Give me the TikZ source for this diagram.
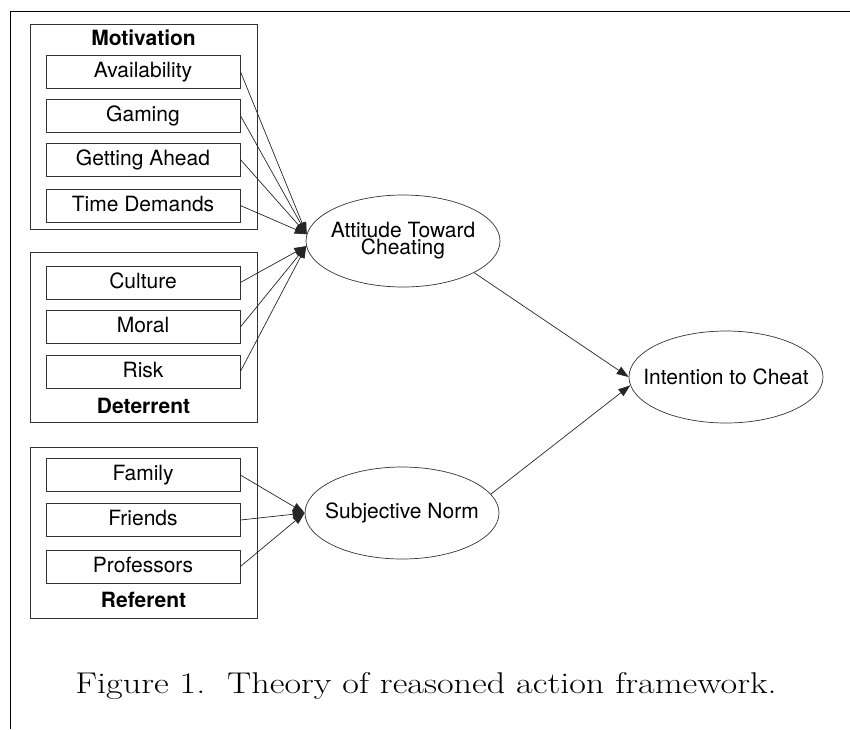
\documentclass[tikz,border=0pt]{standalone}
\usepackage{fontspec}
\setsansfont{TeX Gyre Heros}
\usetikzlibrary{arrows.meta,calc,positioning,shapes.geometric}

\begin{document}
\begin{tikzpicture}[
  x=1pt,y=-1pt,
  every node/.style={font=\sffamily\fontsize{21}{17}\selectfont},
  group/.style={draw=black!80,line width=0.8pt,minimum width=227pt,inner sep=0pt},
  factor/.style={draw=black!80,line width=0.8pt,minimum width=194pt,minimum height=33pt,
    inner sep=0pt,text height=15pt,text depth=4pt},
  construct/.style={ellipse,draw=black!80,line width=0.7pt,minimum width=194pt,
    minimum height=92pt,inner sep=0pt},
  heading/.style={font=\sffamily\bfseries\fontsize{21}{17}\selectfont,anchor=base,inner sep=0pt},
  link/.style={-{Triangle[length=12pt,width=8.5pt]},line width=0.7pt,draw=black!85},
  caption/.style={font=\rmfamily\fontsize{30}{36}\selectfont,anchor=base,inner sep=0pt}
]
\useasboundingbox (0,0) rectangle (850,729);
\draw[line width=1pt] (850,11) -- (10,11) -- (10,729);

% groups of beliefs
\node[group,minimum height=205pt] (motiv) at (143.5,126.5) {};
\node[group,minimum height=170pt] (deter) at (143.5,337) {};
\node[group,minimum height=171pt] (refer) at (143.5,532.5) {};
\node[heading] (motivT) at (143.5,45) {Motivation};
\node[heading] (deterT) at (143.5,413) {Deterrent};
\node[heading] (referT) at (143.5,607) {Referent};

\node[factor] (avail) at (143,71.5) {Availability};
\node[factor] (gaming) at (143,115.5) {Gaming};
\node[factor] (ahead) at (143,159.5) {Getting Ahead};
\node[factor] (time) at (143,205.5) {Time Demands};
\node[factor] (culture) at (143,282.5) {Culture};
\node[factor] (moral) at (143,327) {Moral};
\node[factor] (risk) at (143,371.5) {Risk};
\node[factor] (family) at (143,475) {Family};
\node[factor] (friends) at (143,520) {Friends};
\node[factor] (prof) at (143,566.5) {Professors};

% constructs
\node[construct,label={[align=center,inner sep=0pt]center:Attitude Toward\\Cheating}] (att) at (403,241) {};
\node[construct,label={[inner sep=0pt]center:Subjective Norm}] (norm) at (402,513) {};
\node[construct,label={[inner sep=0pt]center:Intention to Cheat}] (intent) at (726,377) {};

\draw[link] (avail.east) -- (att.176.5);
\draw[link] (gaming.east) -- (att.176.5);
\draw[link] (ahead.east) -- (att.176.5);
\draw[link] (time.east) -- (att.176.5);
\draw[link] (culture.east) -- (att.183.5);
\draw[link] (moral.east) -- (att.183.5);
\draw[link] (risk.east) -- (att.183.5);
\draw[link] (family.east) -- (norm.west);
\draw[link] (friends.east) -- (norm.west);
\draw[link] (prof.east) -- (norm.west);
\draw[link] (att.-24) -- (intent.180);
\draw[link] (norm.12.8) -- (intent.185);

\node[caption] (cap) at (426,693) {\scalebox{1.206}[1]{Figure 1.\ \ Theory of reasoned action framework.}};
\end{tikzpicture}
\end{document}
